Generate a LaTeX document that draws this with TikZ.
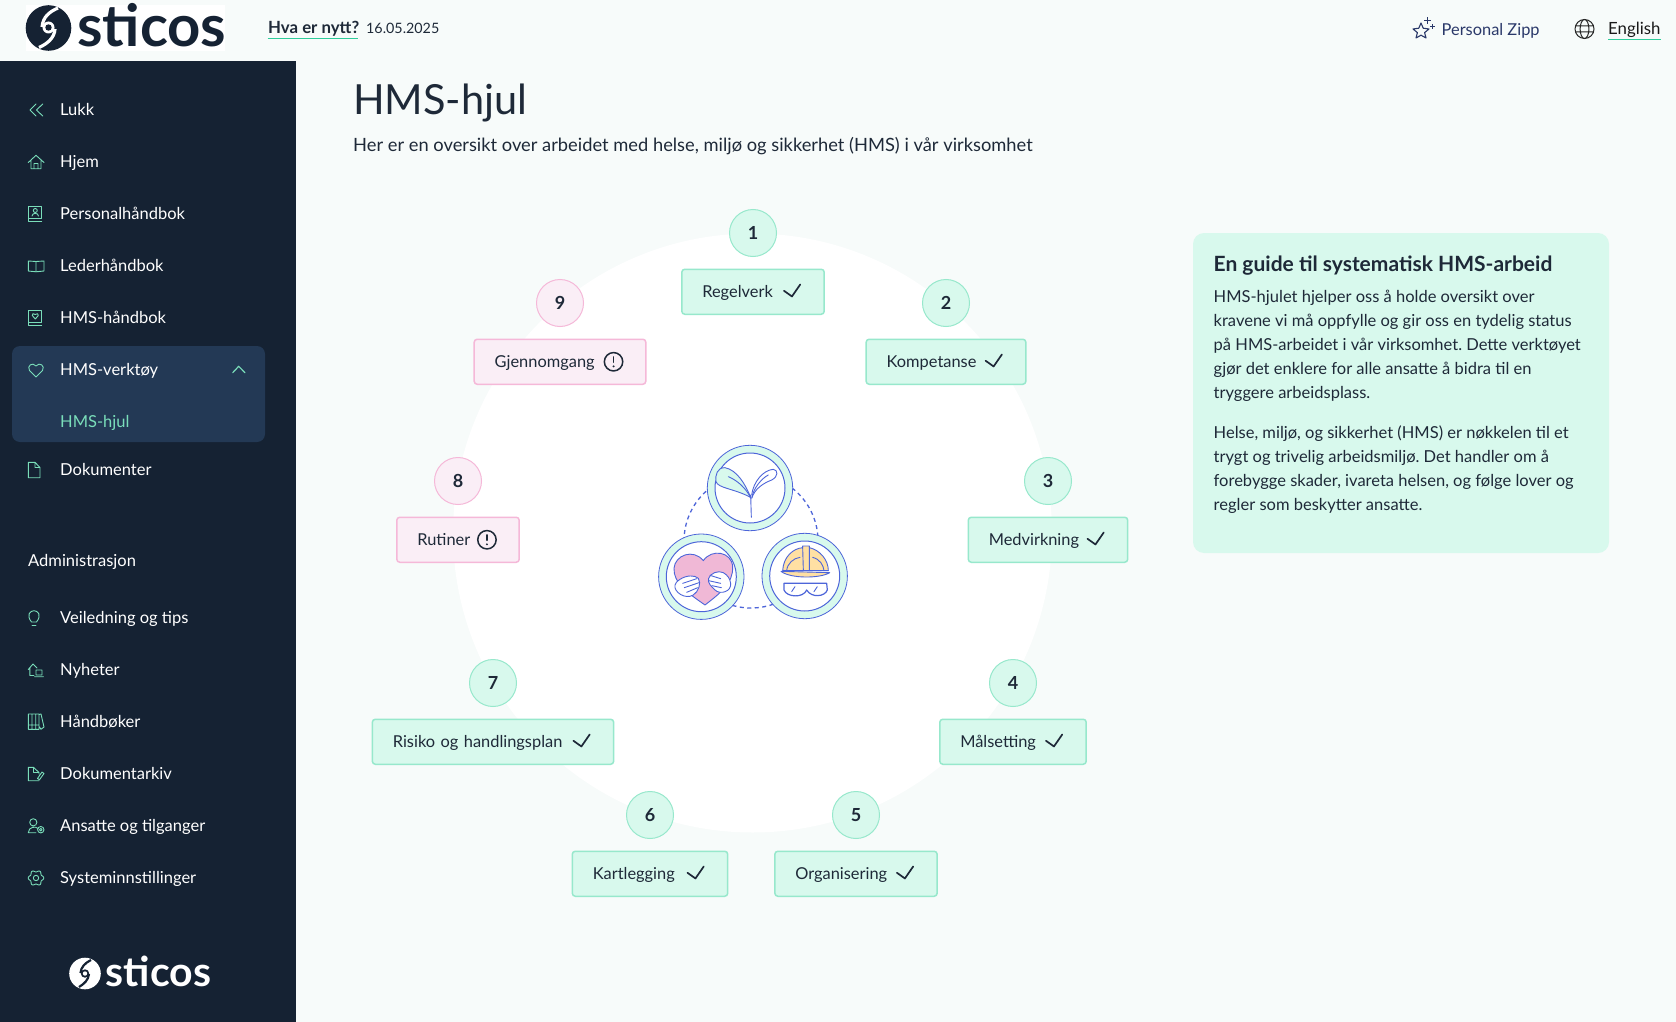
\documentclass[tikz,border=0pt]{standalone}
\usepackage{fontspec}
\setmainfont{Lato}
\frenchspacing
\usetikzlibrary{positioning}
\definecolor{pagecolor}{RGB}{247,251,250}
\definecolor{sidecolor}{RGB}{21,34,51}
\definecolor{activecolor}{RGB}{35,57,85}
\definecolor{inkcolor}{RGB}{30,41,56}
\definecolor{iconcolor}{RGB}{122,222,186}
\definecolor{underlinecolor}{RGB}{46,205,155}
\definecolor{mintfill}{RGB}{216,249,237}
\definecolor{mintline}{RGB}{151,232,204}
\definecolor{pinkfill}{RGB}{250,238,246}
\definecolor{pinkline}{RGB}{245,184,216}
\definecolor{zippcolor}{RGB}{42,56,105}
\definecolor{artblue}{RGB}{77,101,217}
\definecolor{artpink}{RGB}{240,184,214}
\definecolor{artyellow}{RGB}{255,224,163}
\tikzset{
    menutext/.style={anchor=base west, inner sep=0pt, text=white, font=\fontsize{16.5}{20}\selectfont},
    sideicon/.style={draw=iconcolor, line width=0.9pt, line join=round, line cap=round},
    headtext/.style={anchor=base west, inner sep=0pt, text=inkcolor, font=\fontsize{16.8}{20}\selectfont},
    cardtext/.style={anchor=base west, inner sep=0pt, align=left, text=inkcolor, font=\fontsize{16.5}{24}\selectfont},
    stepnum/.style={circle, minimum size=47pt, inner sep=0pt, line width=1pt, text=inkcolor, font=\fontsize{18}{20}\bfseries\selectfont},
    stepbox/.style={rounded corners=3pt, minimum height=45pt, inner ysep=0pt, inner xsep=20.5pt, align=left, text height=11pt, text depth=0pt, line width=1.5pt, text=inkcolor, font=\fontsize{16.4}{20}\selectfont},
    okstep/.style={draw=mintline, fill=mintfill},
    warnstep/.style={draw=pinkline, fill=pinkfill},
    artline/.style={draw=artblue, line width=0.9pt, line join=round, line cap=round},
}
\newcommand{\okmark}[1]{\draw[inkcolor, line width=1.7pt, line cap=round, line join=round] (#1.east) ++(-41,-1) -- ++(8,5.7) -- ++(8.3,-12);}
\newcommand{\warnmark}[1]{
    \draw[inkcolor, line width=1.5pt] (#1.east) ++(-33,0) circle (9.2);
    \draw[inkcolor, line width=1.7pt, line cap=round] (#1.east) ++(-33,-4.8) -- ++(0,5.2);
    \fill[inkcolor] (#1.east) ++(-33,4.6) circle (1.1);
}
\begin{document}
\begin{tikzpicture}[x=1pt, y=-1pt]
    \useasboundingbox (0,0) rectangle (1676,1022);
    \fill[pagecolor] (0,0) rectangle (1676,1022);

    % top bar
    \fill[white] (26,5) rectangle (225,51);
    \fill[sidecolor] (48.5,28) circle (22.8);
    \draw[white, line width=3.2pt] (58,8) .. controls (49,12) and (43,17) .. (42,27);
    \draw[white, line width=3.2pt] (55,29) .. controls (54.5,38) and (47,44) .. (39,47.5);
    \fill[white] (48.5,27.5) circle (6);
    \fill[sidecolor] (48.5,27.5) circle (3.2);
    \node[anchor=base west, inner sep=0pt, text=sidecolor, font=\fontsize{58}{60}\bfseries\selectfont] (toplogo) at (77,46.8) {sticos};

    \node[headtext, font=\fontsize{16.8}{20}\bfseries\selectfont] (newsname) at (268,34) {Hva er nytt?};
    \draw[underlinecolor, line width=1pt] (267.5,38.5) -- (357.5,38.5);
    \node[headtext, font=\fontsize{14.3}{20}\selectfont] (newsdate) at (366,33.5) {16.05.2025};

    \draw[zippcolor, line width=1.1pt, line join=round] (1421,23) -- (1423.2,28.2) -- (1429,29) -- (1424.6,32.6) -- (1426,38) -- (1421,35.2) -- (1416,38) -- (1417.4,32.6) -- (1413,29) -- (1418.8,28.2) -- cycle;
    \draw[zippcolor, line width=1.1pt] (1427.5,17.5) -- (1427.5,24) (1424.3,20.7) -- (1430.7,20.7) (1432.5,24.5) -- (1432.5,29) (1430.2,26.7) -- (1434.8,26.7);
    \node[headtext, text=zippcolor, font=\fontsize{16.4}{20}\selectfont] (zipptext) at (1441.5,35.5) {Personal Zipp};
    \draw[black!85, line width=1pt] (1584.5,29) circle (9.5) (1584.5,29) ellipse (4.4 and 9.5) (1575.5,26) -- (1593.5,26) (1575.5,32) -- (1593.5,32);
    \node[headtext, text=black!90] (langtext) at (1608,34.5) {English};
    \draw[underlinecolor, line width=1pt] (1608,39.5) -- (1661,39.5);

    % side bar
    \fill[sidecolor] (0,61) rectangle (296,1022);
    \fill[activecolor, rounded corners=8pt] (12,346) rectangle (265,442);

    \node[menutext] (lukk) at (60,115.7) {Lukk};
    \node[menutext] (hjem) at (60,167.7) {Hjem};
    \node[menutext] (personal) at (60,219.7) {Personalhåndbok};
    \node[menutext] (leder) at (60,271.7) {Lederhåndbok};
    \node[menutext] (hmsbok) at (60,323.7) {HMS-håndbok};
    \node[menutext] (verktoy) at (60,375.7) {HMS-verktøy};
    \node[menutext, text=iconcolor] (hjul) at (60,427.7) {HMS-hjul};
    \node[menutext] (dokumenter) at (60,475.7) {Dokumenter};
    \node[menutext] (admin) at (28,566.7) {Administrasjon};
    \node[menutext] (veiledning) at (60,623.7) {Veiledning og tips};
    \node[menutext] (nyheter) at (60,675.7) {Nyheter};
    \node[menutext] (handboker) at (60,727.7) {Håndbøker};
    \node[menutext] (arkiv) at (60,779.7) {Dokumentarkiv};
    \node[menutext] (ansatte) at (60,831.7) {Ansatte og tilganger};
    \node[menutext] (system) at (60,883.7) {Systeminnstillinger};

    % side bar icons
    \draw[sideicon] (36,104) -- (30,110) -- (36,116) (42.7,104) -- (36.5,110) -- (42.7,116);
    \draw[sideicon] (28.3,162.5) -- (36,155.3) -- (44,162.5) (31,160) -- (31,168.7) -- (41,168.7) -- (41,160) (34,168.7) -- (34,163.5) -- (38,163.5) -- (38,168.7);
    \draw[sideicon] (28.3,218) -- (28.3,206) -- (41.7,206) -- (41.7,218) -- cycle (28.3,218) -- (28.3,221) -- (41.7,221);
    \draw[sideicon] (35.3,210.5) circle (2) (32,216) .. controls (32,212.5) and (38.5,212.5) .. (38.5,216);
    \draw[sideicon] (28.3,261) -- (36,261.5) -- (44,261) -- (44,271) -- (36,271.8) -- (28.3,271) -- cycle (36,261.5) -- (36,271.8);
    \draw[sideicon] (28.3,322) -- (28.3,310) -- (41.7,310) -- (41.7,322) -- cycle (28.3,322) -- (28.3,325) -- (41.7,325);
    \draw[sideicon] (35.3,319) -- (32.3,315.5) -- (33,313.7) -- (35.3,314.5) -- (37.6,313.7) -- (38.3,315.5) -- cycle;
    \draw[sideicon] (36,377) -- (29.5,370.5) .. controls (26.5,366) and (32.5,361.5) .. (36,366) .. controls (39.5,361.5) and (45.5,366) .. (42.5,370.5) -- cycle;
    \draw[sideicon, line width=1.2pt] (232.7,372.7) -- (238.7,366.3) -- (245,372.7);
    \draw[sideicon] (35,462.3) -- (28.3,462.3) -- (28.3,477.7) -- (40,477.7) -- (40,467.5) -- (35,462.3) -- (35,467.5) -- (40,467.5);
    \draw[sideicon] (31.5,622) .. controls (26,615) and (30,610.7) .. (34,610.7) .. controls (38,610.7) and (42,615) .. (36.5,622) -- cycle (32,625.5) -- (36,625.5);
    \draw[sideicon] (28.3,669.5) -- (33,664) -- (37,668) (29.8,668) -- (29.8,675.5) -- (34,675.5) (36,670) -- (36,675) -- (42,675) -- (42,670) -- cycle (34.5,676.7) -- (43.5,676.7);
    \draw[sideicon] (28.3,714) rectangle (32,729.3) (32,714) rectangle (35.7,729.3) (35.7,714) rectangle (39,729.3) (28.3,725) -- (39,725) (39,714.5) -- (41,714) -- (44,727) -- (41,729.3) -- (39.5,727);
    \draw[sideicon] (33.5,767.3) -- (28.3,767.3) -- (28.3,780.7) -- (39,780.7) (33.5,767.3) -- (39,772.5) -- (39,774) (33.5,767.3) -- (33.5,772.5) -- (39,772.5) (37.5,778.5) -- (42,772) -- (44,773.5) -- (39.5,779.7) -- cycle;
    \draw[sideicon] (33.3,822.3) circle (3.6) (28.3,832.7) .. controls (28.5,826.5) and (36,826) .. (38,828.5) (28.3,832.7) -- (36,832.7);
    \draw[sideicon] (40.8,829.7) circle (1.3) (40.8,829.7) circle (3.2);
    \draw[sideicon] plot[domain=0:360, samples=73, smooth] ({36+(6.9+0.9*cos(6*\x))*cos(\x)},{878+(6.9+0.9*cos(6*\x))*sin(\x)}) -- cycle;
    \draw[sideicon] (36,878) circle (2.7);

    % bottom logo
    \fill[white] (85,973.5) circle (15.8);
    \draw[sidecolor, line width=2.2pt] (91,960) .. controls (85,963) and (81,967) .. (80.5,973);
    \draw[sidecolor, line width=2.2pt] (89,974) .. controls (88.5,980) and (84,984) .. (79,987);
    \fill[sidecolor] (85,973.5) circle (4.2);
    \fill[white] (85,973.5) circle (2.2);
    \node[anchor=base west, inner sep=0pt, text=white, font=\fontsize{41}{44}\bfseries\selectfont] (botlogo) at (105.5,986.7) {sticos};

    % heading
    \node[headtext, font=\fontsize{41.5}{44}\selectfont] (title) at (353,115) {HMS-hjul};
    \node[headtext, font=\fontsize{18.3}{22}\selectfont] (subtitle) at (353,152) {Her er en oversikt over arbeidet med helse, miljø og sikkerhet (HMS) i vår virksomhet};

    % wheel
    \fill[white] (752.5,533) circle (299.5);

    \node[stepnum, draw=mintline, fill=mintfill] (num1) at (753,233) {1};
    \node[stepnum, draw=mintline, fill=mintfill] (num2) at (946,303) {2};
    \node[stepnum, draw=mintline, fill=mintfill] (num3) at (1048,481) {3};
    \node[stepnum, draw=mintline, fill=mintfill] (num4) at (1013,683) {4};
    \node[stepnum, draw=mintline, fill=mintfill] (num5) at (856,815) {5};
    \node[stepnum, draw=mintline, fill=mintfill] (num6) at (650,815) {6};
    \node[stepnum, draw=mintline, fill=mintfill] (num7) at (493,683) {7};
    \node[stepnum, draw=pinkline, fill=pinkfill] (num8) at (458,481) {8};
    \node[stepnum, draw=pinkline, fill=pinkfill] (num9) at (560,303) {9};

    \node[stepbox, okstep, below=11.5pt of num1, text width=101.4pt] (box1) {Regelverk};
    \node[stepbox, okstep, below=11.5pt of num2, text width=118.7pt] (box2) {Kompetanse};
    \node[stepbox, okstep, below=11.5pt of num3, text width=118.4pt] (box3) {Medvirkning};
    \node[stepbox, okstep, below=11.5pt of num4, text width=105.4pt] (box4) {Målsetting};
    \node[stepbox, okstep, below=11.5pt of num5, text width=121.3pt] (box5) {Organisering};
    \node[stepbox, okstep, below=11.5pt of num6, text width=114.4pt] (box6) {Kartlegging};
    \node[stepbox, okstep, below=11.5pt of num7, text width=200.3pt] (box7) {Risiko og handlingsplan};
    \node[stepbox, warnstep, below=11.5pt of num8, text width=81.4pt] (box8) {Rutiner};
    \node[stepbox, warnstep, below=11.5pt of num9, text width=130.6pt] (box9) {Gjennomgang};

    \okmark{box1}
    \okmark{box2}
    \okmark{box3}
    \okmark{box4}
    \okmark{box5}
    \okmark{box6}
    \okmark{box7}
    \warnmark{box8}
    \warnmark{box9}

    % picture in the middle of the wheel
    \draw[artblue, line width=1.3pt, dash pattern=on 4pt off 3.5pt] (751,541) circle (67);
    \filldraw[fill=mintfill, draw=artblue, line width=0.8pt] (750,488) circle (42.7);
    \filldraw[fill=white, draw=artblue, line width=1pt] (750,488) circle (35);
    \filldraw[fill=mintfill, draw=artblue, line width=0.8pt] (701.3,576.7) circle (42.7);
    \filldraw[fill=white, draw=artblue, line width=1pt] (701.3,576.7) circle (35);
    \filldraw[fill=mintfill, draw=artblue, line width=0.8pt] (804.7,576) circle (42.7);
    \filldraw[fill=white, draw=artblue, line width=1pt] (804.7,576) circle (35);

    \begin{scope}[shift={(630,420)}, scale=1/3]
        % plant
        \filldraw[artline, fill=mintfill] (362,232) .. controls (345,190) and (320,150) .. (285,143) .. controls (262,142) and (255,165) .. (258,185) .. controls (265,205) and (310,205) .. (362,232) -- cycle;
        \draw[artline] (365,225) .. controls (370,185) and (400,150) .. (430,148) .. controls (445,150) and (445,170) .. (425,180) .. controls (400,190) and (375,205) .. (365,235);
        \draw[artline] (295,170) .. controls (320,180) and (350,205) .. (362,235) (415,165) .. controls (395,175) and (370,205) .. (366,232);
        \draw[artline] (362,225) -- (364,292);
        % heart
        \filldraw[artline, fill=artpink] (225,555) .. controls (175,520) and (130,490) .. (132,445) .. controls (135,405) and (190,385) .. (220,422) .. controls (245,385) and (305,395) .. (308,440) .. controls (310,490) and (270,520) .. (225,555) -- cycle;
        \filldraw[artline, fill=white] (135,495) .. controls (130,515) and (165,540) .. (190,525) .. controls (205,515) and (215,490) .. (205,475) .. controls (195,465) and (170,465) .. (150,478) .. controls (140,485) and (137,488) .. (135,495) -- cycle;
        \draw[artline] (158,490) -- (200,476) (163,503) -- (207,488) (170,517) -- (203,503);
        \filldraw[artline, fill=white] (302,490) .. controls (305,515) and (270,525) .. (255,510) .. controls (245,500) and (232,490) .. (236,475) .. controls (240,460) and (265,450) .. (280,458) .. controls (292,465) and (300,475) .. (302,490) -- cycle;
        \draw[artline] (240,466) -- (272,476) (236,482) -- (272,490) (246,497) -- (274,503);
        % helmet and goggles
        \filldraw[artline, fill=artyellow] (458,452) .. controls (460,410) and (490,385) .. (518,383) -- (518,378) -- (538,378) -- (538,383) .. controls (570,390) and (595,420) .. (595,452) -- cycle;
        \draw[artline] (518,383) -- (520,450) (538,383) -- (538,452) (470,452) .. controls (472,430) and (490,415) .. (510,412) (548,412) .. controls (570,418) and (580,435) .. (582,452);
        \filldraw[artline, fill=artyellow] (453,454) -- (599,458) .. controls (570,476) and (480,476) .. (453,454) -- cycle;
        \draw[artline, line width=1.2pt] (462,490) -- (590,490) -- (592,510) .. controls (585,530) and (545,535) .. (530,510) .. controls (520,535) and (470,532) .. (462,510) -- cycle;
        \draw[artline] (485,515) -- (495,500) (552,515) -- (562,500);
    \end{scope}

    % guide card
    \fill[mintfill, rounded corners=11pt] (1193,233) rectangle (1609,553);
    \node[headtext, font=\fontsize{21}{24}\bfseries\selectfont] (cardtitle) at (1213.5,271.5) {En guide til systematisk HMS-arbeid};
    \node[cardtext] (cardpara1) at (1213.5,398) {HMS-hjulet hjelper oss å holde oversikt over\\kravene vi må oppfylle og gir oss en tydelig status\\på HMS-arbeidet i vår virksomhet. Dette verktøyet\\gjør det enklere for alle ansatte å bidra til en\\tryggere arbeidsplass.};
    \node[cardtext] (cardpara2) at (1213.5,510) {Helse, miljø, og sikkerhet (HMS) er nøkkelen til et\\trygt og trivelig arbeidsmiljø. Det handler om å\\forebygge skader, ivareta helsen, og følge lover og\\regler som beskytter ansatte.};
\end{tikzpicture}
\end{document}
